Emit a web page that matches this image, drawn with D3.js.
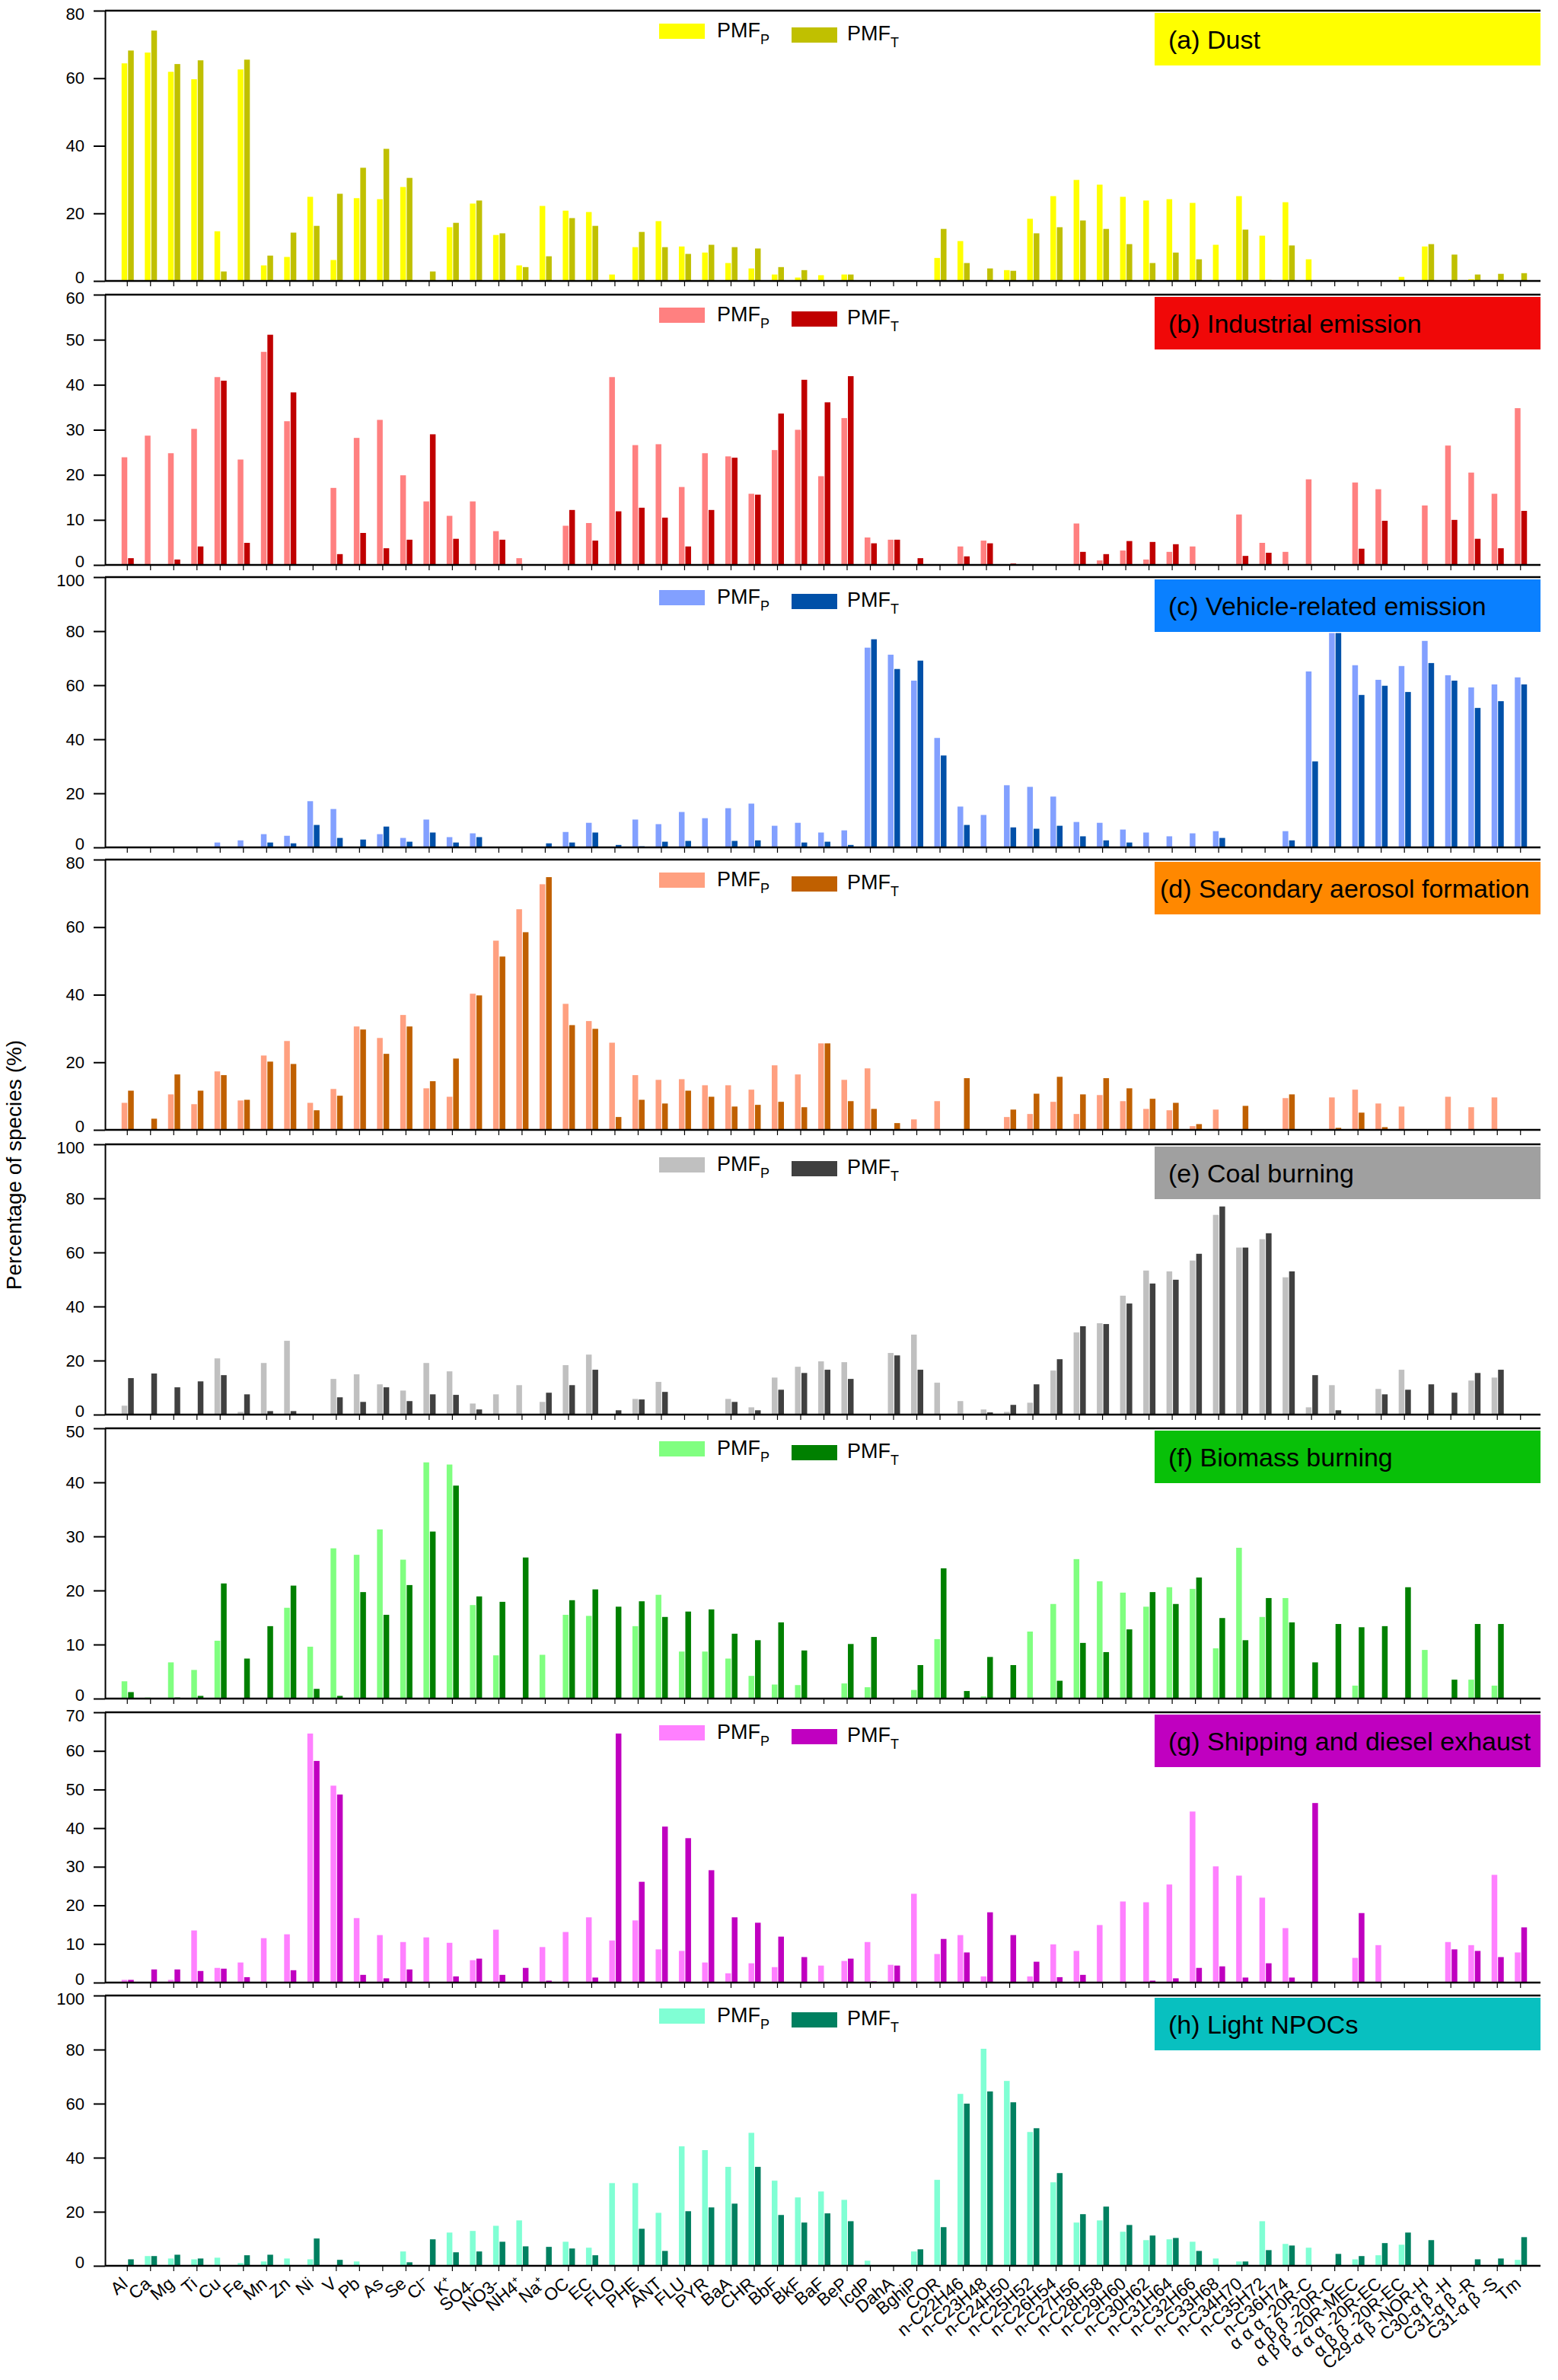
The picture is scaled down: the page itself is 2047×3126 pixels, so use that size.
<!DOCTYPE html>
<html><head><meta charset="utf-8">
<script src="https://cdn.jsdelivr.net/npm/d3@7"></script>
<style>
body{margin:0;background:#fff;}
svg text{font-family:"Liberation Sans",Arial,Helvetica,sans-serif;}
</style>
</head><body>
<svg id="chart" width="2047" height="3126"></svg>
<script>
const categories = ["Al","Ca","Mg","Ti","Cu","Fe","Mn","Zn","Ni","V","Pb","As","Se","Cl⁻","K⁺","SO4-","NO3-","NH4⁺","Na⁺","OC","EC","FLO","PHE","ANT","FLU","PYR","BaA","CHR","BbF","BkF","BaF","BeP","IcdP","DahA","BghiP","COR",
"n-C22H46","n-C23H48","n-C24H50","n-C25H52","n-C26H54","n-C27H56","n-C28H58","n-C29H60","n-C30H62","n-C31H64","n-C32H66","n-C33H68","n-C34H70","n-C35H72","n-C36H74",
"α α α -20R-C","α β β -20R-C","α β β -20R-MEC","α α α -20R-EC","α β β -20R-EC","C29-α β -NOR-H","C30-α β -H","C31-α β -R","C31-α β -S","Tm"];

const panelTitles = ["(a) Dust","(b) Industrial emission","(c) Vehicle-related emission","(d) Secondary aerosol formation","(e) Coal burning","(f) Biomass burning","(g) Shipping and diesel exhaust","(h) Light NPOCs"];
const yMaxes = [80,60,100,80,100,50,70,100];
const yTickSteps = [20,10,20,20,20,10,10,20];
const seriesNames = ["P","T"];

const dustP = [64.4,67.6,61.9,59.7,14.7,62.6,4.6,7.1,24.9,6.2,24.5,24.2,27.8,0,15.9,22.9,13.6,4.6,22.2,20.8,20.4,1.9,10.0,17.7,10.2,8.4,5.3,3.7,1.9,1.0,1.7,1.9,0,0,0,6.8,11.8,0,3.2,18.4,25.1,29.9,28.5,24.9,23.8,24.2,23.1,10.7,25.1,13.4,23.3,6.4,0,0,0,1.2,10.2,0,0.5,0,0];
const dustT = [68.2,74.1,64.2,65.3,2.8,65.5,7.5,14.3,16.3,25.8,33.5,39.1,30.5,2.8,17.2,23.8,14.1,4.1,7.3,18.6,16.3,0,14.5,10.0,8.0,10.7,10.0,9.6,4.1,3.2,0,1.9,0,0,0,15.4,5.3,3.7,3.0,14.1,15.9,17.9,15.4,10.9,5.3,8.4,6.4,0,15.2,0.3,10.5,0,0,0,0,0,10.9,7.8,1.9,2.1,2.3];

const industrialP = [23.9,28.7,24.8,30.2,41.7,23.4,47.3,31.9,0,17.1,28.2,32.2,19.9,14.1,10.9,14.1,7.5,1.5,0,8.7,9.3,41.7,26.6,26.8,17.3,24.8,24.1,15.8,25.5,30.0,19.7,32.6,6.1,5.6,0,0,4.1,5.4,0,0,0,9.2,1.0,3.2,1.2,2.9,4.1,0,11.2,4.9,2.9,19.0,0,18.3,16.8,0,13.2,26.5,20.5,15.8,34.8];
const industrialT = [1.5,0,1.2,4.1,40.9,4.9,51.1,38.3,0,2.4,7.1,3.7,5.6,29.0,5.8,0,5.6,0,0,12.2,5.4,11.9,12.7,10.5,4.1,12.2,23.8,15.6,33.6,41.1,36.1,41.9,4.8,5.6,1.5,0,1.9,4.8,0.3,0,0,2.9,2.4,5.3,5.1,4.6,0,0,2.0,2.7,0,0,0,3.6,9.8,0,0,10.0,5.8,3.7,12.0];

const vehicleP = [0,0,0,0,1.8,2.6,4.9,4.3,17.1,14.2,0,4.9,3.5,10.3,3.8,5.2,0,0,0,5.7,9.1,0,10.3,8.6,13.1,10.8,14.5,16.2,8.0,9.1,5.5,6.3,73.9,71.3,61.7,40.5,15.1,12.0,23.0,22.4,18.8,9.4,9.1,6.6,5.5,4.1,5.2,6.0,0,0,6.0,65.1,79.3,67.4,62.0,67.1,76.4,63.7,59.2,60.3,62.9];
const vehicleT = [0,0,0,0,0,0,1.8,1.5,8.3,3.5,2.9,7.7,2.1,5.5,1.8,3.8,0,0,1.5,1.8,5.5,0.9,0.4,2.1,2.4,0,2.4,2.6,0,1.8,2.1,0.9,77.0,66.0,69.1,34.0,8.3,0,7.4,6.9,8.0,4.1,2.6,1.8,0,0,0,3.5,0,0,2.6,31.8,79.3,56.4,59.8,57.5,68.2,61.7,51.6,54.1,60.3];

const secondaryP = [8.0,0,10.5,7.6,17.3,8.7,22.0,26.3,8.0,12.1,30.6,27.2,34.0,12.3,9.8,40.3,56.0,65.3,72.7,37.3,32.2,25.8,16.2,14.8,15.0,13.2,13.2,11.9,19.1,16.4,25.6,14.8,18.2,0,3.1,8.5,0,0,3.8,4.7,8.3,4.7,10.3,8.5,6.2,5.8,1.1,6.0,0,0,9.4,0,9.6,11.9,7.8,6.9,0,9.8,6.7,9.6,0];
const secondaryT = [11.6,3.3,16.4,11.6,16.2,8.9,20.2,19.5,5.8,10.1,29.7,22.5,30.6,14.4,21.1,39.8,51.3,58.5,74.8,31.0,29.9,3.8,8.9,7.8,11.6,9.8,6.9,7.4,8.3,6.7,25.6,8.5,6.2,2.0,0,0,15.3,0,6.0,10.7,15.7,10.5,15.3,12.3,9.2,8.0,1.7,0,7.1,0,10.5,0,0.6,5.1,0.8,0,0,0,0,0,0];

const coalP = [3.3,0,0,0,20.8,1.0,19.1,27.3,0,13.2,14.9,11.2,8.9,19.1,16.0,4.1,7.5,10.9,4.7,18.3,22.2,0,5.8,12.1,0,0,5.8,2.7,13.7,17.7,19.7,19.4,0,22.8,29.6,11.8,5.0,1.9,1.0,4.4,16.3,30.4,33.8,44.0,53.3,53.0,57.0,73.9,61.8,64.9,50.8,2.7,10.9,0,9.5,16.6,0,0,12.6,13.7,0];
const coalT = [13.5,15.2,10.1,12.3,14.6,7.5,1.3,1.3,0,6.4,4.7,10.1,5.0,7.5,7.3,1.9,0,0,8.1,10.9,16.6,1.6,5.6,8.4,0,0,4.7,1.6,9.2,15.4,16.6,13.2,0,21.9,16.6,0,0,0.8,3.6,11.2,20.5,32.7,33.5,41.1,48.5,49.9,59.5,77.0,61.8,67.1,53.0,14.6,1.6,0,7.5,9.2,11.2,8.1,15.4,16.6,0];

const biomassP = [3.2,0.2,6.7,5.3,10.7,0,0,16.8,9.6,27.8,26.6,31.3,25.7,43.7,43.3,17.3,8.0,0,8.1,15.5,15.3,0,13.4,19.2,8.7,8.7,7.4,4.2,2.6,2.5,0,2.8,2.1,0,1.6,11.0,0,0.4,0,12.4,17.5,25.8,21.7,19.6,17.0,20.6,20.3,9.3,27.9,15.1,18.6,0,0,2.4,0,0,9.0,0,3.5,2.4,0];
const biomassT = [1.2,0,0.2,0.5,21.3,7.4,13.4,20.9,1.8,0.5,19.7,15.5,21.0,30.9,39.4,18.9,17.9,26.1,0,18.2,20.2,17.0,18.0,15.1,16.1,16.5,12.0,10.8,14.1,8.9,0,10.1,11.4,0,6.2,24.1,1.4,7.7,6.2,0,3.3,10.3,8.6,12.8,19.7,17.5,22.4,14.9,10.8,18.6,14.1,6.7,13.8,13.2,13.4,20.6,0,3.5,13.8,13.8,0];

const shippingP = [0.7,0,0.7,13.5,3.8,5.2,11.5,12.5,64.5,51.0,16.7,12.3,10.5,11.7,10.3,5.8,13.7,0,9.2,13.1,16.9,10.9,16.1,8.6,8.2,5.2,2.4,5.0,4.0,0,4.4,5.6,10.5,4.6,23.0,7.4,12.3,1.6,0,1.6,9.9,8.2,14.9,21.0,20.8,25.4,44.3,30.1,27.7,22.0,14.1,0,0,6.4,9.7,0,0,10.5,9.7,27.9,7.8];
const shippingT = [0.7,3.4,3.4,3.0,3.6,1.4,0,3.2,57.4,48.7,2.0,1.1,3.4,0,1.6,6.2,2.0,3.8,0.5,0,1.3,64.5,26.1,40.4,37.4,29.1,16.9,15.5,11.9,6.6,0,6.2,0.3,4.4,0,11.3,7.8,18.2,12.3,5.4,1.4,2.0,0,0,0.5,1.1,3.8,4.2,1.3,5.0,1.3,46.5,0,18.0,0,0,0,8.6,8.2,6.6,14.3];

const npocP = [0,3.6,2.7,2.4,3.0,1.0,1.6,2.7,2.4,0,1.6,0,5.3,0,12.3,12.9,14.8,16.8,0,8.9,6.7,30.6,30.6,19.6,44.2,42.8,36.6,49.2,31.5,25.3,27.5,24.4,1.9,0,5.3,31.8,63.6,80.3,68.4,49.5,30.9,16.0,16.8,12.6,9.5,9.8,8.9,2.7,1.6,16.5,8.1,6.7,0,2.4,3.9,7.8,0,0,0,0,2.2];
const npocT = [2.4,3.6,4.1,2.7,0,3.9,4.1,0,10.1,2.2,0,0,1.3,9.8,5.0,5.3,8.9,7.2,7.0,6.4,3.9,0,13.7,5.5,20.2,21.6,23.0,36.6,18.8,16.0,19.4,16.5,0,0,6.1,14.3,60.0,64.5,60.5,50.9,34.3,19.1,21.9,15.1,11.2,10.3,5.5,0,1.6,5.8,7.5,0,4.4,3.6,8.4,12.3,9.5,0,2.4,2.7,10.6];

const seriesP = [dustP, industrialP, vehicleP, secondaryP, coalP, biomassP, shippingP, npocP];
const seriesT = [dustT, industrialT, vehicleT, secondaryT, coalT, biomassT, shippingT, npocT];

const colorsP = ["#FFFF00","#FF8080","#82A0FF","#FFA080","#C0C0C0","#80FF80","#FF80FF","#80FFD4"];
const colorsT = ["#C0C000","#C00000","#0050A8","#C06000","#404040","#008000","#C000C0","#008060"];
const boxColors = ["#FFFF00","#F00808","#0A80FF","#FF8800","#A0A0A0","#08C008","#C000C0","#08C0C0"];

// ---- layout ----
const svg = d3.select("#chart");
const left = 138, right = 2024;
const panelH = 355;
const panelTops = [14, 387, 758, 1129, 1503, 1876, 2249, 2621];

const x = d3.scaleBand().domain(categories).range([152, 2013]).padding(0);
const xSub = d3.scaleBand().domain(seriesNames).range([-7.5, 8.5]).paddingInner(0.12);

panelTitles.forEach((title, i) => {
  const top = panelTops[i], bottom = top + panelH;
  const y = d3.scaleLinear().domain([0, yMaxes[i]]).range([bottom, top]);
  const g = svg.append("g");

  // bars
  const rows = [];
  categories.forEach((c, j) => {
    rows.push({c, s: "P", v: seriesP[i][j]});
    rows.push({c, s: "T", v: seriesT[i][j]});
  });
  g.append("g").selectAll("rect").data(rows.filter(d => d.v > 0)).join("rect")
    .attr("x", d => x(d.c) + x.bandwidth() / 2 + xSub(d.s))
    .attr("y", d => y(d.v))
    .attr("width", xSub.bandwidth())
    .attr("height", d => y(0) - y(d.v))
    .attr("fill", d => d.s === "P" ? colorsP[i] : colorsT[i]);

  // left axis
  const ya = g.append("g").attr("transform", `translate(${left},0)`)
    .call(d3.axisLeft(y).tickValues(d3.range(0, yMaxes[i] + 0.001, yTickSteps[i]))
      .tickSize(15).tickPadding(12).tickSizeOuter(0));
  ya.select(".domain").attr("stroke", "#000").attr("stroke-width", 2);
  ya.selectAll(".tick line").attr("stroke", "#000").attr("stroke-width", 2);
  ya.selectAll(".tick text").attr("font-size", 22).attr("fill", "#000")
    .style("font-family", "'Liberation Sans',Arial,sans-serif")
    .attr("dy", d => d === 0 ? "0.12em" : (d === yMaxes[i] ? "0.5em" : "0.32em"));

  // bottom axis ticks
  const xa = g.append("g").attr("transform", `translate(0,${bottom})`)
    .call(d3.axisBottom(x).tickSize(7).tickSizeOuter(0).tickFormat(""));
  xa.select(".domain").remove();
  xa.selectAll(".tick line").attr("stroke", "#000").attr("stroke-width", 1.2);

  // frame lines top & bottom
  g.append("line").attr("x1", left).attr("x2", right).attr("y1", top).attr("y2", top)
    .attr("stroke", "#000").attr("stroke-width", 2.6);
  g.append("line").attr("x1", left).attr("x2", right).attr("y1", bottom).attr("y2", bottom)
    .attr("stroke", "#000").attr("stroke-width", 2.6);

  // title box
  g.append("rect").attr("x", 1517).attr("y", top + 3).attr("width", right - 1517).attr("height", 69)
    .attr("fill", boxColors[i]);
  g.append("text").attr("x", i === 3 ? 1524 : 1535).attr("y", top + 3 + 34.5 + 12)
    .attr("font-size", 34).attr("fill", "#000").text(title);

  // legend
  g.append("rect").attr("x", 866).attr("y", top + 17).attr("width", 60).attr("height", 20).attr("fill", colorsP[i]);
  const tp = g.append("text").attr("x", 942).attr("y", top + 35).attr("font-size", 27).attr("fill", "#000");
  tp.append("tspan").text("PMF");
  tp.append("tspan").attr("dy", 9).attr("font-size", 18).text("P");
  g.append("rect").attr("x", 1040).attr("y", top + 22).attr("width", 60).attr("height", 20).attr("fill", colorsT[i]);
  const tt = g.append("text").attr("x", 1113).attr("y", top + 39).attr("font-size", 27).attr("fill", "#000");
  tt.append("tspan").text("PMF");
  tt.append("tspan").attr("dy", 9).attr("font-size", 18).text("T");

  // category labels on the last panel
  if (i === panelTitles.length - 1) {
    g.append("g").selectAll("text").data(categories).join("text")
      .attr("transform", d => `translate(${x(d) + x.bandwidth() / 2 + 2},${bottom + 26}) rotate(-40)`)
      .attr("text-anchor", "end").attr("font-size", 23).attr("fill", "#000")
      .text(d => d);
  }
});

// y-axis title
svg.append("text").attr("transform", "translate(28,1530) rotate(-90)")
  .attr("text-anchor", "middle").attr("font-size", 28).attr("fill", "#000")
  .text("Percentage of species (%)");
</script>
</body></html>
